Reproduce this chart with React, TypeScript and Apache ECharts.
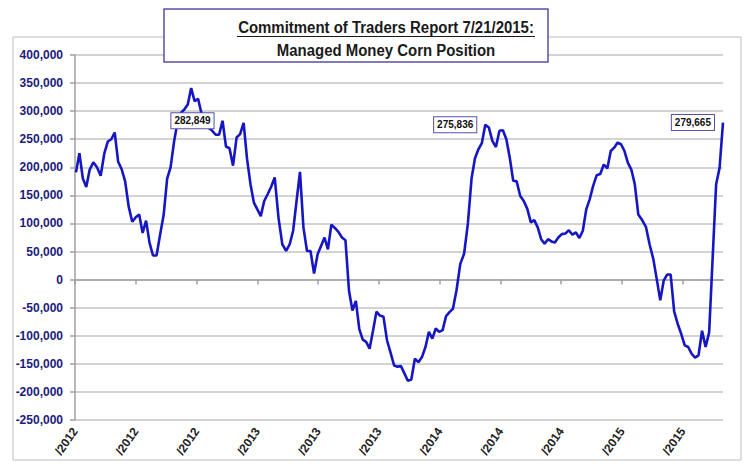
import React, { useEffect, useRef } from "react";
import * as echarts from "echarts";

// Weekly report dates start on this Tuesday; one value per week through 7/21/2015
const firstReportDate = "2012-01-03";

// Managed money net corn position (contracts), weekly
const netPosition: number[] = [
  191000, 225000, 180000, 165000, 196000, 209000, 200000, 185000, 225000, 246000,
  250000, 262000, 210000, 197000, 175000, 130000, 103000, 111000, 116000, 83000,
  105000, 66000, 43000, 43000, 80000, 115000, 180000, 200000, 245000, 280000,
  297000, 303000, 312000, 341000, 318000, 322000, 295000, 282000, 270000, 265000,
  258000, 258000, 282849, 237000, 234000, 203000, 253000, 259000, 279000, 215000,
  170000, 137000, 125000, 113000, 140000, 152000, 165000, 182000, 110000, 63000,
  51000, 63000, 87000, 140000, 192000, 93000, 51000, 51000, 11000, 45000,
  60000, 75000, 54000, 98000, 92000, 85000, 75000, 70000, -20000, -55000,
  -38000, -88000, -107000, -111000, -123000, -91000, -57000, -64000, -66000, -108000,
  -130000, -153000, -155000, -154000, -167000, -180000, -178000, -141000, -147000, -138000,
  -120000, -93000, -105000, -87000, -93000, -90000, -65000, -58000, -52000, -19000,
  28000, 46000, 100000, 180000, 216000, 232000, 243000, 275836, 271000, 247000,
  236000, 265000, 266000, 250000, 217000, 176000, 175000, 149000, 140000, 126000,
  102000, 106000, 93000, 72000, 64000, 72000, 68000, 66000, 75000, 81000,
  82000, 88000, 80000, 84000, 74000, 87000, 125000, 143000, 167000, 186000,
  188000, 205000, 198000, 229000, 235000, 244000, 241000, 229000, 208000, 196000,
  170000, 116000, 106000, 94000, 62000, 36000, 0, -37000, -2000, 9000,
  9000, -57000, -79000, -97000, -117000, -120000, -132000, -139000, -135000, -91000,
  -120000, -94000, 40000, 170000, 199000, 279665,
];

// Weeks whose value is shown in a callout box
const labelledWeeks: number[] = [42, 117, 185];

// X tick labels every four months, as visible (month/day cut off in the source image)
const xTickLabels: string[] = [
  "/2012", "/2012", "/2012",
  "/2013", "/2013", "/2013",
  "/2014", "/2014", "/2014",
  "/2015", "/2015",
];

const titleLine1 = "Commitment of Traders Report 7/21/2015:";
const titleLine2 = "Managed Money Corn Position";

const DAY = 86400000;
function monthIndex(t: number): number {
  const d = new Date(t);
  const y = d.getUTCFullYear();
  const m = d.getUTCMonth();
  const days = new Date(Date.UTC(y, m + 1, 0)).getUTCDate();
  return (y - 2012) * 12 + m + (d.getUTCDate() - 1) / days;
}

export default function App() {
  const ref = useRef<HTMLDivElement>(null);
  useEffect(() => {
    if (!ref.current) return;
    const chart = echarts.init(ref.current, undefined, { renderer: "svg" });
    const t0 = Date.parse(firstReportDate + "T00:00:00Z");
    const xs = netPosition.map((_, i) => monthIndex(t0 + i * 7 * DAY));
    const xMax = xs[xs.length - 1];
    const tickVals = xTickLabels.map((_, i) => i * 4);
    const labelStyle = {
      show: true,
      position: "left",
      distance: 9,
      fontFamily: "Liberation Sans, Arial, sans-serif",
      fontSize: 10,
      fontWeight: "bold",
      color: "#111",
      backgroundColor: "#ffffff",
      borderColor: "#5a4fa6",
      borderWidth: 1,
      padding: [3, 3, 2, 3],
      formatter: (p: any) => Number(p.value[1]).toLocaleString("en-US"),
    };
    const data = netPosition.map((v, i) => {
      if (labelledWeeks.includes(i)) {
        return { value: [xs[i], v], label: labelStyle };
      }
      return { value: [xs[i], v] };
    });
    chart.setOption({
      animation: false,
      backgroundColor: "#ffffff",
      grid: {
        left: 75,
        right: 32,
        top: 55,
        bottom: 45,
        containLabel: false,
        outerBoundsMode: "none",
      },
      xAxis: {
        type: "value",
        min: 0,
        max: xMax,
        interval: 4,
        splitLine: { show: false },
        axisLine: { show: true, lineStyle: { color: "#a0a0a0", width: 1.5 } },
        axisTick: {
          show: true,
          length: 5,
          customValues: tickVals,
          lineStyle: { color: "#a0a0a0", width: 1.5 },
        },
        axisLabel: {
          customValues: tickVals,
          rotate: 55,
          margin: 9,
          fontFamily: "Liberation Sans, Arial, sans-serif",
          fontSize: 12,
          fontWeight: "bold",
          color: "#222",
          formatter: (v: number) => xTickLabels[Math.round(v / 4)] ?? "",
        },
      },
      yAxis: {
        type: "value",
        min: -250000,
        max: 400000,
        interval: 50000,
        axisLine: { show: true, lineStyle: { color: "#a0a0a0", width: 1.5 } },
        axisTick: { show: true, length: 5, lineStyle: { color: "#a0a0a0", width: 1.5 } },
        splitLine: { show: true, lineStyle: { color: "#c4c4c4", width: 1.5 } },
        axisLabel: {
          margin: 12,
          fontFamily: "Liberation Sans, Arial, sans-serif",
          fontSize: 12,
          fontWeight: "bold",
          color: "#1b1b7e",
          formatter: (v: number) => v.toLocaleString("en-US"),
        },
      },
      series: [
        {
          type: "line",
          data,
          symbol: "circle",
          symbolSize: 0,
          showSymbol: true,
          showAllSymbol: true,
          lineStyle: { color: "#1616c4", width: 2.6 },
          itemStyle: { color: "#1616c4" },
          z: 5,
        },
      ],
      graphic: [
        {
          type: "rect",
          z: -10,
          silent: true,
          shape: { x: 13, y: 37, width: 728, height: 423 },
          style: { fill: "none", stroke: "#bdbdbd", lineWidth: 1 },
        },
        {
          type: "rect",
          z: 10,
          shape: { x: 164, y: 9, width: 384, height: 53 },
          style: { fill: "#ffffff", stroke: "#5a4fa6", lineWidth: 1.5 },
        },
        {
          type: "text",
          z: 11,
          x: 386,
          y: 27,
          scaleX: 0.88,
          style: {
            text: titleLine1,
            fontFamily: "Liberation Sans, Arial, sans-serif",
            fontSize: 17,
            fontWeight: "bold",
            fill: "#1a1a1a",
            align: "center",
            verticalAlign: "middle",
          },
        },
        {
          type: "line",
          z: 11,
          shape: { x1: 237, y1: 36.5, x2: 535, y2: 36.5 },
          style: { stroke: "#1a1a1a", lineWidth: 1.2 },
        },
        {
          type: "text",
          z: 11,
          x: 386,
          y: 50,
          scaleX: 0.88,
          style: {
            text: titleLine2,
            fontFamily: "Liberation Sans, Arial, sans-serif",
            fontSize: 17,
            fontWeight: "bold",
            fill: "#1a1a1a",
            align: "center",
            verticalAlign: "middle",
          },
        },
      ],
    });
    return () => chart.dispose();
  }, []);
  return (
    <div
      ref={ref}
      style={{ position: "absolute", left: 0, top: 0, width: 755, height: 465 }}
    />
  );
}
